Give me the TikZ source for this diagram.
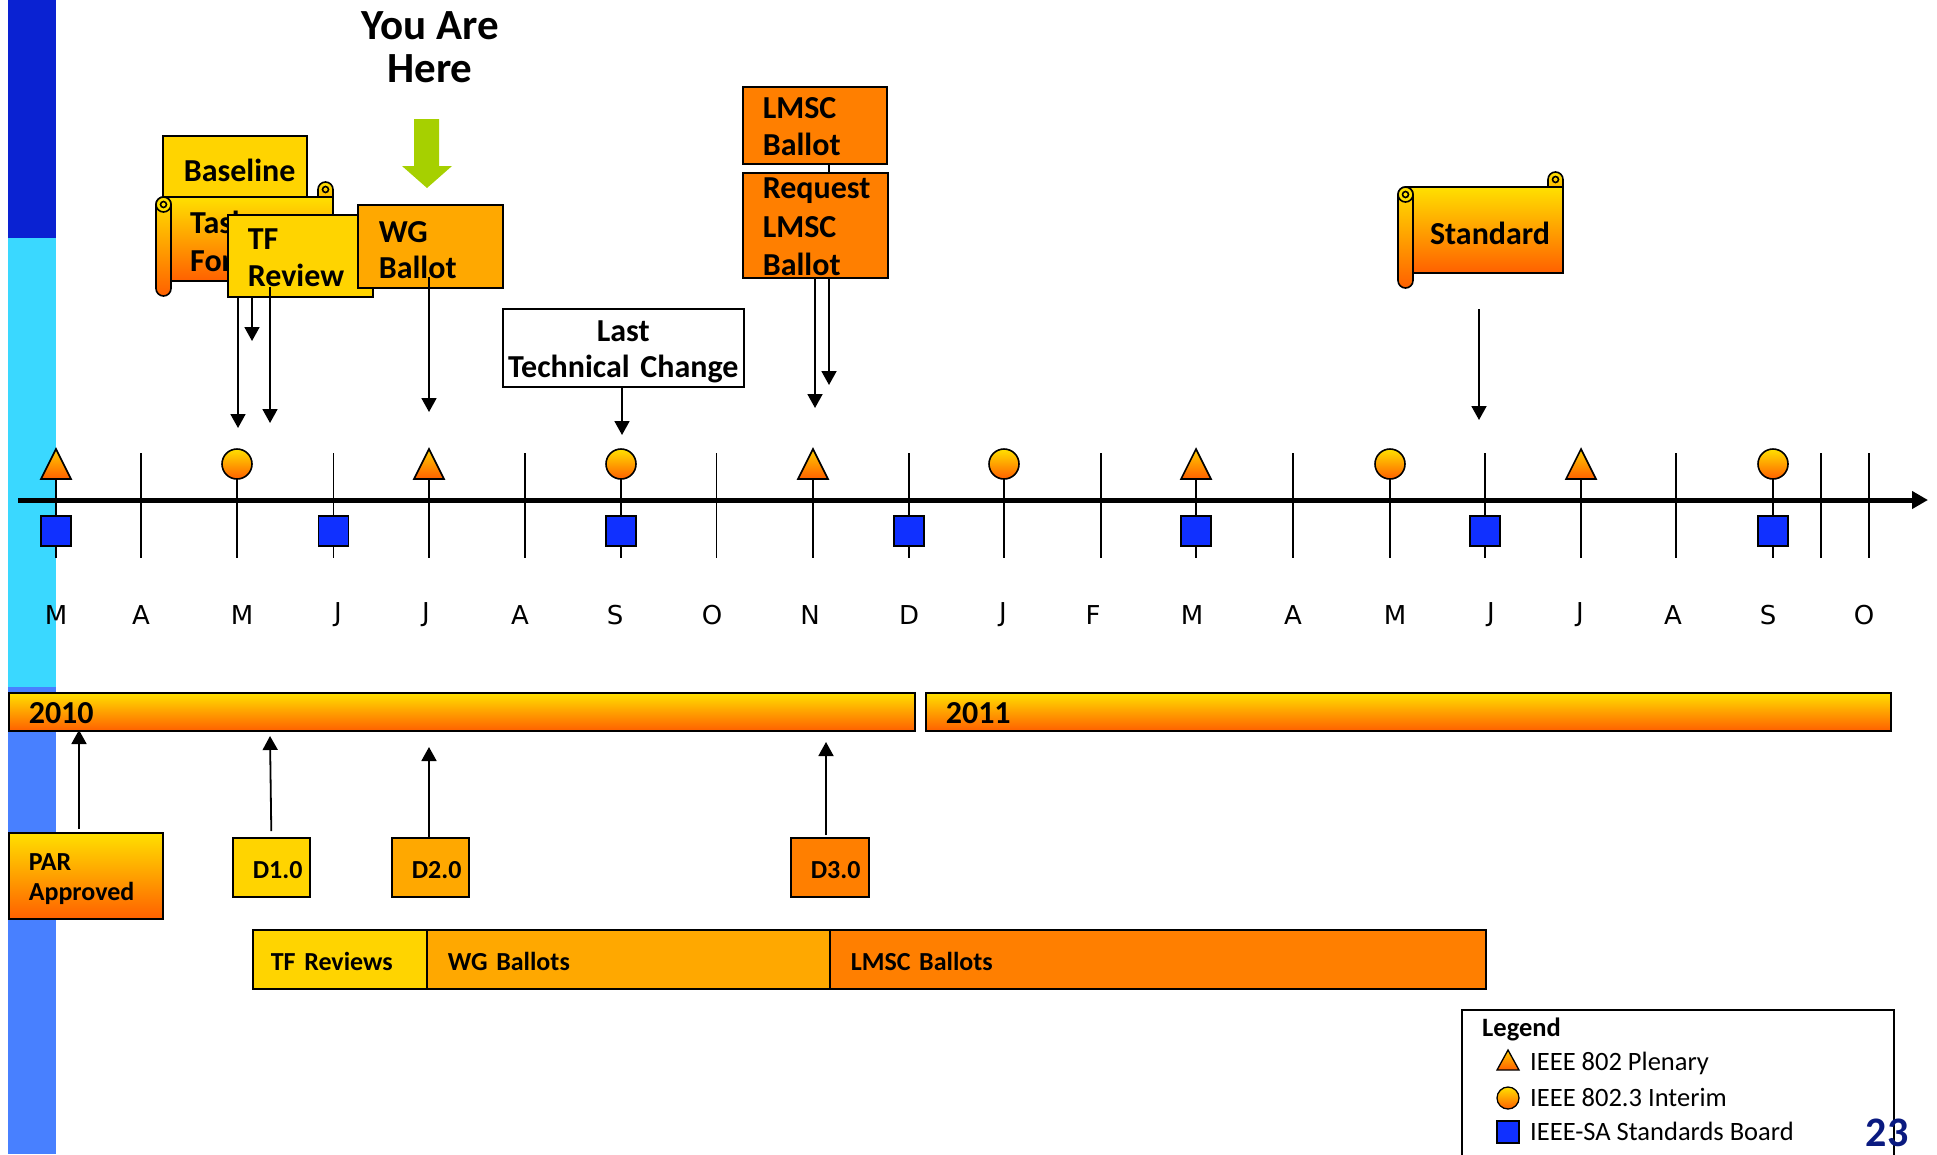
\documentclass[tikz,border=0pt]{standalone}
\usepackage{fontspec}
\setmainfont{Carlito}
\newfontfamily\monthfont{DejaVu Sans}
\usetikzlibrary{arrows.meta}
\definecolor{darkbar}{RGB}{10,34,210}
\definecolor{cyanbar}{RGB}{58,216,255}
\definecolor{lowbar}{RGB}{72,128,255}
\definecolor{gold}{RGB}{255,212,0}
\definecolor{amber}{RGB}{255,168,0}
\definecolor{orng}{RGB}{255,127,0}
\definecolor{gtop}{RGB}{255,224,0}
\definecolor{gbot}{RGB}{255,96,0}
\definecolor{sqblue}{RGB}{16,48,255}
\definecolor{leaf}{RGB}{166,208,0}
\definecolor{navy}{RGB}{10,26,128}
\newcommand\lift[1]{\rule{0pt}{#1}}
\tikzset{
  sline/.style={draw=black, line width=1.6pt},
  grad/.style={top color=gtop, bottom color=gbot},
  box/.style={sline, anchor=north west, align=left, inner ysep=0pt,
    font=\bfseries\fontsize{32}{37}\selectfont},
  smallbox/.style={box, font=\bfseries\fontsize{26}{30}\selectfont},
  arr/.style={line width=1.8pt, -{Triangle[length=14pt,width=15pt]}},
  ticker/.style={line width=1.8pt},
  month/.style={font=\monthfont\fontsize{26}{26}\selectfont, inner sep=0pt},
  legtext/.style={anchor=west, inner sep=0pt, font=\fontsize{26.5}{26.5}\selectfont},
}
\newcommand\hscroll[4]{%
  \draw[sline, top color=gtop, bottom color=gtop!70!gbot] ({#3-15},{#2+15}) -- ({#3-15},{#2+7.5})
     arc[start angle=180,end angle=360,radius=7.5] -- ({#3},{#2+15}) -- cycle;
  \draw[sline] ({#3-7.5},{#2+7.5}) circle[radius=3];
  \draw[sline, grad] ({#1+7.5},{#2+15}) rectangle ({#3},{#4-15});
  \draw[sline, grad, rounded corners=7.5pt] ({#1},{#2+15}) rectangle ({#1+15},{#4});
  \draw[sline, fill=gtop] ({#1+7.5},{#2+22.5}) circle[radius=7.5];
  \draw[sline] ({#1+7.5},{#2+22.5}) circle[radius=3];
}
\begin{document}
\begin{tikzpicture}[x=1pt,y=-1pt]
\useasboundingbox (0,0) rectangle (1937,1154);
% left colour band
\fill[darkbar] (8,0) rectangle (56,238);
\fill[cyanbar] (8,238) rectangle (56,687);
\fill[lowbar] (8,687) rectangle (56,1154);

% You are here
\node[font=\bfseries\fontsize{43}{43}\selectfont, align=center] (here) at (430,47) {You Are\\Here};
\fill[leaf] (414,119) -- (439,119) -- (439,166) -- (452,166) -- (427,188) -- (402,166) -- (414,166) -- cycle;

% top boxes
\node[box, fill=gold, minimum width=144pt, minimum height=70pt, text width=102pt, inner xsep=21pt] (baseline) at (162,135) {Baseline};
\hscroll{156}{182}{333}{296}
\node[anchor=west, align=left, inner sep=0pt, font=\bfseries\fontsize{32}{38}\selectfont] (taskforce) at (190,241) {Task\\Force};
\node[box, fill=gold, minimum width=145pt, minimum height=82pt, text width=105pt, inner xsep=20pt] (tfr) at (227,214) {\lift{25pt}TF\\Review};
\node[box, fill=amber, minimum width=145pt, minimum height=83pt, text width=103pt, inner xsep=21pt, font=\bfseries\fontsize{32}{36}\selectfont] (wg) at (357,204) {\lift{28pt}WG\\Ballot};
\node[box, fill=white, align=center, minimum width=241pt, minimum height=78pt, text width=237pt, inner xsep=2pt, font=\bfseries\fontsize{32}{36}\selectfont] (ltc) at (502,308) {\lift{29pt}Last\\Technical Change};
\node[box, fill=orng, minimum width=144pt, minimum height=77pt, text width=104pt, inner xsep=20pt] (lmsc) at (742,86) {\lift{24pt}LMSC\\Ballot};
\node[box, fill=orng, minimum width=145pt, minimum height=105pt, text width=105pt, inner xsep=20pt, font=\bfseries\fontsize{32}{38.5}\selectfont] (req) at (742,172) {\lift{24.6pt}Request\\LMSC\\Ballot};
\hscroll{1398}{172}{1563}{288}
\node[inner sep=0pt, font=\bfseries\fontsize{32}{36}\selectfont] (std) at (1490,233) {Standard};

% downward connectors
\coordinate (d1) at (238,428);
\coordinate (d2) at (252,341);
\coordinate (d3) at (270,423);
\coordinate (d4) at (429,412);
\coordinate (d5) at (622,435);
\coordinate (d6) at (815,408);
\coordinate (d7) at (829,385);
\coordinate (d8) at (1479,420);
\coordinate (s8) at (1479,309);
\draw[arr] (tfr.south west -| d1) -- (d1);
\draw[arr] (tfr.south west -| d2) -- (d2);
\draw[arr] ([yshift=11pt]tfr.south west -| d3) -- (d3);
\draw[arr] ([yshift=12pt]wg.south -| d4) -- (d4);
\draw[arr] (ltc.south -| d5) -- (d5);
\draw[arr] (req.south -| d6) -- (d6);
\draw[arr] (req.south -| d7) -- (d7);
\draw[line width=1.8pt] (lmsc.south -| d7) -- (req.north -| d7);
\draw[arr] (s8) -- (d8);

% axis
\foreach \x in {56,141,237,333.5,429,525,621,716.5,813,909,1004,1101,1196,1293,1390,1485,1581,1676,1773,1821,1869}
  \draw[ticker] (\x,453) -- (\x,558);
\draw[line width=5pt, -{Triangle[length=16pt,width=17pt]}] (18,500) -- (1928,500);
\foreach \x in {56,429,813,1196,1581}
  \draw[sline, top color=gtop!80!orange, bottom color=gbot] ({\x-15},479) -- (\x,449) -- ({\x+15},479) -- cycle;
\foreach \x in {237,621,1004,1390,1773}
  \draw[sline, top color=gtop, bottom color=gbot] (\x,464) circle[radius=15];
\foreach \x in {56,333.5,621,909,1196,1485,1773}
  \draw[sline, fill=sqblue] ({\x-15},516) rectangle ({\x+15},546);

% month labels
\foreach \x/\l [count=\i] in {56/M,141/A,242/M,338/J,426/J,520/A,615/S,712/O,810/N,909/D,1003/J,1093/F,1192/M,1293/A,1395/M,1491/J,1580/J,1673/A,1768/S,1864/O}
  \node[month] (mon\i) at (\x,615) {\l};

% year bars
\node[box, grad, minimum width=906pt, minimum height=38pt, text width=866pt, inner xsep=20pt] (y2010) at (8,692) {\lift{24pt}2010};
\node[box, grad, minimum width=965pt, minimum height=38pt, text width=925pt, inner xsep=20pt] (y2011) at (925,692) {\lift{24pt}2011};

% bottom boxes
\node[smallbox, grad, minimum width=154pt, minimum height=86pt, text width=114pt, inner xsep=20pt] (par) at (8,832) {\lift{24pt}PAR\\Approved};
\node[smallbox, fill=gold, minimum width=77pt, minimum height=59pt, text width=37pt, inner xsep=20pt] (done) at (232,837) {\lift{21.7pt}D1.0};
\node[smallbox, fill=amber, minimum width=77pt, minimum height=59pt, text width=37pt, inner xsep=20pt] (dtwo) at (391,837) {\lift{21.7pt}D2.0};
\node[smallbox, fill=orng, minimum width=78pt, minimum height=59pt, text width=38pt, inner xsep=20pt] (dthree) at (790,837) {\lift{21.7pt}D3.0};

\coordinate (u1) at (79,730);
\coordinate (u2) at (270,736);
\coordinate (u3) at (429,747);
\coordinate (u4) at (826,742);
\draw[arr] ([yshift=3pt]par.north -| u1) -- (u1);
\draw[arr] ([yshift=6pt]done.north) -- (u2);
\draw[arr] (dtwo.north -| u3) -- (u3);
\draw[arr] ([yshift=2pt]dthree.north -| u4) -- (u4);

\node[smallbox, fill=gold, minimum width=174pt, minimum height=59pt, text width=138pt, inner xsep=18pt] (tfrs) at (252,929) {\lift{21.7pt}TF Reviews};
\node[smallbox, fill=amber, minimum width=403pt, minimum height=59pt, text width=361pt, inner xsep=21pt] (wgs) at (426,929) {\lift{21.7pt}WG Ballots};
\node[smallbox, fill=orng, minimum width=656pt, minimum height=59pt, text width=614pt, inner xsep=21pt] (lmscs) at (829,929) {\lift{21.7pt}LMSC Ballots};

% legend
\node[sline, anchor=north west, minimum width=432pt, minimum height=170pt, inner sep=0pt] (legend) at (1461,1009) {};
\node[legtext, font=\bfseries\fontsize{26.5}{26.5}\selectfont] (legtitle) at (1482,1029) {Legend};
\draw[line width=1.3pt, top color=gtop!80!orange, bottom color=gbot] (1497,1070) -- (1508,1050) -- (1519,1070) -- cycle;
\node[legtext] (leg1) at (1530,1063) {IEEE 802 Plenary};
\draw[line width=1.3pt, top color=gtop, bottom color=gbot] (1508,1098) circle[radius=11];
\node[legtext] (leg2) at (1530,1097) {IEEE 802.3 Interim};
\draw[line width=1.3pt, fill=sqblue] (1497,1121) rectangle (1519,1143);
\node[legtext] (leg3) at (1530,1131) {IEEE-SA Standards Board};
\node[inner sep=0pt, text=navy, font=\bfseries\fontsize{42}{42}\selectfont] (pagenum) at (1887,1133) {23};
\end{tikzpicture}
\end{document}
